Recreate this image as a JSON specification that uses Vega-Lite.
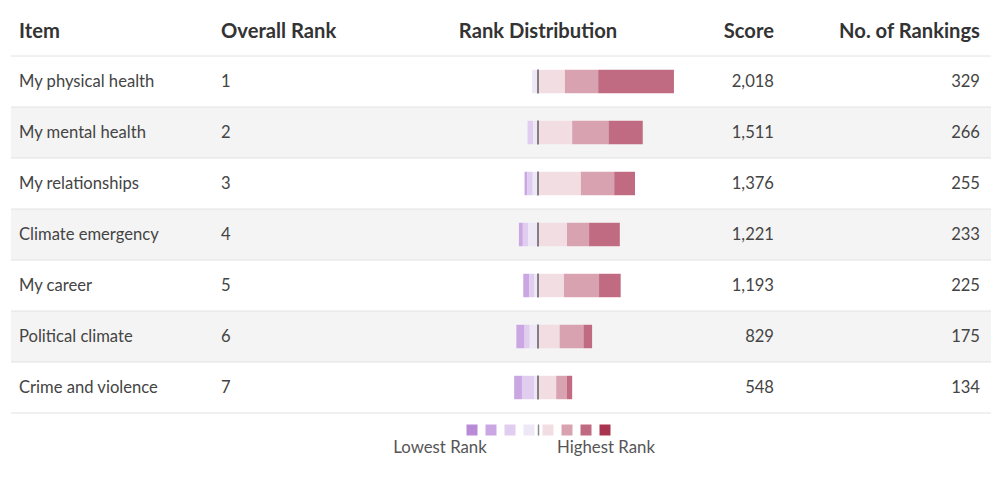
{
  "$schema": "https://vega.github.io/schema/vega-lite/v6.json",
  "padding": {"left": 10, "right": 10, "top": 0, "bottom": 0},
  "background": "#ffffff",
  "spacing": 0,
  "config": {"view": {"stroke": null}, "font": "Lato", "text": {"font": "Lato"}},
  "datasets": {
    "rows": [
      {"Item": "My physical health", "rank": 1, "score": 2018, "n": 329},
      {"Item": "My mental health", "rank": 2, "score": 1511, "n": 266},
      {"Item": "My relationships", "rank": 3, "score": 1376, "n": 255},
      {"Item": "Climate emergency", "rank": 4, "score": 1221, "n": 233},
      {"Item": "My career", "rank": 5, "score": 1193, "n": 225},
      {"Item": "Political climate", "rank": 6, "score": 829, "n": 175},
      {"Item": "Crime and violence", "rank": 7, "score": 548, "n": 134}
    ],
    "dist": [
      {"Item": "My physical health", "k": "L1", "v": -14},
      {"Item": "My physical health", "k": "H1", "v": 62},
      {"Item": "My physical health", "k": "H2", "v": 77},
      {"Item": "My physical health", "k": "H3", "v": 175},
      {"Item": "My mental health", "k": "L2", "v": -13},
      {"Item": "My mental health", "k": "L1", "v": -11},
      {"Item": "My mental health", "k": "H1", "v": 79},
      {"Item": "My mental health", "k": "H2", "v": 84},
      {"Item": "My mental health", "k": "H3", "v": 79},
      {"Item": "My relationships", "k": "L3", "v": -6},
      {"Item": "My relationships", "k": "L2", "v": -13},
      {"Item": "My relationships", "k": "L1", "v": -12},
      {"Item": "My relationships", "k": "H1", "v": 99},
      {"Item": "My relationships", "k": "H2", "v": 77},
      {"Item": "My relationships", "k": "H3", "v": 48},
      {"Item": "Climate emergency", "k": "L3", "v": -9},
      {"Item": "Climate emergency", "k": "L2", "v": -12},
      {"Item": "Climate emergency", "k": "L1", "v": -23},
      {"Item": "Climate emergency", "k": "H1", "v": 67},
      {"Item": "Climate emergency", "k": "H2", "v": 51},
      {"Item": "Climate emergency", "k": "H3", "v": 71},
      {"Item": "My career", "k": "L3", "v": -14},
      {"Item": "My career", "k": "L2", "v": -12},
      {"Item": "My career", "k": "L1", "v": -8},
      {"Item": "My career", "k": "H1", "v": 60},
      {"Item": "My career", "k": "H2", "v": 81},
      {"Item": "My career", "k": "H3", "v": 50},
      {"Item": "Political climate", "k": "L3", "v": -19},
      {"Item": "Political climate", "k": "L2", "v": -12},
      {"Item": "Political climate", "k": "L1", "v": -19},
      {"Item": "Political climate", "k": "H1", "v": 50},
      {"Item": "Political climate", "k": "H2", "v": 55},
      {"Item": "Political climate", "k": "H3", "v": 20},
      {"Item": "Crime and violence", "k": "L3", "v": -18},
      {"Item": "Crime and violence", "k": "L2", "v": -29},
      {"Item": "Crime and violence", "k": "L1", "v": -8},
      {"Item": "Crime and violence", "k": "H1", "v": 42},
      {"Item": "Crime and violence", "k": "H2", "v": 25},
      {"Item": "Crime and violence", "k": "H3", "v": 12}
    ],
    "legend": [
      {"k": "L4"}, {"k": "L3"}, {"k": "L2"}, {"k": "L1"},
      {"k": "H1"}, {"k": "H2"}, {"k": "H3"}, {"k": "H4"}
    ]
  },
  "vconcat": [
    {
      "width": 980,
      "height": 55,
      "layer": [
        {
          "data": {"values": [{"col": "Item", "label": "Item"}, {"col": "rank", "label": "Overall Rank"}]},
          "mark": {"type": "text", "align": "left", "baseline": "middle", "dy": 4, "font": "Lato", "fontWeight": "bold", "fontSize": 20.2, "color": "#333333"},
          "encoding": {
            "x": {"field": "col", "type": "nominal", "scale": {"type": "point", "domain": ["Item", "rank"], "range": [8, 210], "padding": 0}, "axis": null},
            "text": {"field": "label", "type": "nominal"}
          }
        },
        {
          "data": {"values": [{"col": "score", "label": "Score"}, {"col": "n", "label": "No. of Rankings"}]},
          "mark": {"type": "text", "align": "right", "baseline": "middle", "dy": 4, "font": "Lato", "fontWeight": "bold", "fontSize": 20.2, "color": "#333333"},
          "encoding": {
            "x": {"field": "col", "type": "nominal", "scale": {"type": "point", "domain": ["score", "n"], "range": [763, 969], "padding": 0}, "axis": null},
            "text": {"field": "label", "type": "nominal"}
          }
        },
        {
          "data": {"values": [{"label": "Rank Distribution"}]},
          "mark": {"type": "text", "align": "center", "baseline": "middle", "dy": 4, "font": "Lato", "fontWeight": "bold", "fontSize": 20.2, "color": "#333333"},
          "encoding": {
            "x": {"datum": 0, "type": "quantitative", "scale": {"domain": [-1217, 1046.2], "nice": false, "zero": false}, "axis": null},
            "text": {"field": "label", "type": "nominal"}
          }
        }
      ],
      "resolve": {"scale": {"x": "independent"}}
    },
    {
      "width": 980,
      "height": 357,
      "layer": [
        {
          "data": {"name": "rows"},
          "transform": [{"filter": "datum.rank % 2 === 0"}],
          "mark": {"type": "rect", "color": "#f4f4f4"},
          "encoding": {
            "y": {"field": "Item", "type": "nominal", "sort": null, "scale": {"domain": ["My physical health", "My mental health", "My relationships", "Climate emergency", "My career", "Political climate", "Crime and violence"], "paddingInner": 0, "paddingOuter": 0}, "axis": null}
          }
        },
        {
          "data": {"name": "rows"},
          "mark": {"type": "rule", "color": "#e2e2e2", "strokeWidth": 1},
          "encoding": {
            "y": {"field": "Item", "type": "nominal", "bandPosition": 0, "sort": null, "scale": {"domain": ["My physical health", "My mental health", "My relationships", "Climate emergency", "My career", "Political climate", "Crime and violence"], "paddingInner": 0, "paddingOuter": 0}, "axis": null}
          }
        },
        {
          "data": {"name": "rows"},
          "transform": [{"filter": "datum.rank === 7"}],
          "mark": {"type": "rule", "color": "#e2e2e2", "strokeWidth": 1},
          "encoding": {
            "y": {"field": "Item", "type": "nominal", "bandPosition": 1, "sort": null, "scale": {"domain": ["My physical health", "My mental health", "My relationships", "Climate emergency", "My career", "Political climate", "Crime and violence"], "paddingInner": 0, "paddingOuter": 0}, "axis": null}
          }
        },
        {
          "data": {"name": "dist"},
          "mark": {"type": "bar", "height": {"band": 0.46}},
          "encoding": {
            "y": {"field": "Item", "type": "nominal", "sort": null, "scale": {"domain": ["My physical health", "My mental health", "My relationships", "Climate emergency", "My career", "Political climate", "Crime and violence"], "paddingInner": 0, "paddingOuter": 0}, "axis": null},
            "x": {"field": "v", "type": "quantitative", "stack": "zero", "scale": {"domain": [-1217, 1046.2], "nice": false, "zero": false}, "axis": null},
            "color": {"field": "k", "type": "nominal", "scale": {"domain": ["L4", "L3", "L2", "L1", "H1", "H2", "H3", "H4"], "range": ["#b98ad8", "#caa6e2", "#e0cdef", "#eee7f6", "#f2dde3", "#d9a2b0", "#c06b81", "#a93450"]}, "legend": null},
            "order": {"field": "k", "type": "ordinal", "sort": "ascending"}
          }
        },
        {
          "data": {"name": "rows"},
          "mark": {"type": "tick", "color": "#555555", "thickness": 2, "size": 24, "orient": "vertical"},
          "encoding": {
            "y": {"field": "Item", "type": "nominal", "sort": null, "scale": {"domain": ["My physical health", "My mental health", "My relationships", "Climate emergency", "My career", "Political climate", "Crime and violence"], "paddingInner": 0, "paddingOuter": 0}, "axis": null},
            "x": {"datum": 0, "type": "quantitative", "scale": {"domain": [-1217, 1046.2], "nice": false, "zero": false}, "axis": null}
          }
        },
        {
          "data": {"name": "rows"},
          "transform": [{"fold": ["Item", "rank"], "as": ["col", "val"]}],
          "mark": {"type": "text", "align": "left", "baseline": "middle", "font": "Lato", "fontSize": 16.6, "color": "#444444"},
          "encoding": {
            "y": {"field": "Item", "type": "nominal", "sort": null, "scale": {"domain": ["My physical health", "My mental health", "My relationships", "Climate emergency", "My career", "Political climate", "Crime and violence"], "paddingInner": 0, "paddingOuter": 0}, "axis": null},
            "x": {"field": "col", "type": "nominal", "scale": {"type": "point", "domain": ["Item", "rank"], "range": [8, 210], "padding": 0}, "axis": null},
            "text": {"field": "val", "type": "nominal"}
          }
        },
        {
          "data": {"name": "rows"},
          "transform": [{"fold": ["score", "n"], "as": ["col", "val"]}],
          "mark": {"type": "text", "align": "right", "baseline": "middle", "font": "Lato", "fontSize": 16.6, "color": "#444444"},
          "encoding": {
            "y": {"field": "Item", "type": "nominal", "sort": null, "scale": {"domain": ["My physical health", "My mental health", "My relationships", "Climate emergency", "My career", "Political climate", "Crime and violence"], "paddingInner": 0, "paddingOuter": 0}, "axis": null},
            "x": {"field": "col", "type": "nominal", "scale": {"type": "point", "domain": ["score", "n"], "range": [763, 969], "padding": 0}, "axis": null},
            "text": {"field": "val", "type": "quantitative", "format": ","}
          }
        }
      ],
      "resolve": {"scale": {"x": "independent"}}
    },
    {
      "width": 980,
      "height": 32,
      "layer": [
        {
          "data": {"name": "legend"},
          "mark": {"type": "square", "size": 121, "filled": true, "opacity": 1},
          "encoding": {
            "x": {"field": "k", "type": "nominal", "sort": null, "scale": {"type": "band", "domain": ["L4", "L3", "L2", "L1", "H1", "H2", "H3", "H4"], "range": [451.5, 603.5], "paddingInner": 0, "paddingOuter": 0}, "axis": null},
            "color": {"field": "k", "type": "nominal", "scale": {"domain": ["L4", "L3", "L2", "L1", "H1", "H2", "H3", "H4"], "range": ["#b98ad8", "#d0b0e6", "#e0cdef", "#efe9f6", "#f2dde3", "#dba3b2", "#c06c82", "#a93450"]}, "legend": null}
          }
        },
        {
          "data": {"values": [{"k": "H1"}]},
          "mark": {"type": "tick", "color": "#555555", "thickness": 1.5, "size": 11, "orient": "vertical"},
          "encoding": {
            "x": {"field": "k", "type": "nominal", "bandPosition": 0, "scale": {"type": "band", "domain": ["L4", "L3", "L2", "L1", "H1", "H2", "H3", "H4"], "range": [451.5, 603.5], "paddingInner": 0, "paddingOuter": 0}, "axis": null}
          }
        },
        {
          "data": {"values": [{"k": "L4", "label": "Lowest Rank"}]},
          "mark": {"type": "text", "align": "center", "baseline": "middle", "dx": -32, "dy": 18, "font": "Lato", "fontSize": 16.8, "color": "#555555"},
          "encoding": {
            "x": {"field": "k", "type": "nominal", "scale": {"type": "band", "domain": ["L4", "L3", "L2", "L1", "H1", "H2", "H3", "H4"], "range": [451.5, 603.5], "paddingInner": 0, "paddingOuter": 0}, "axis": null},
            "text": {"field": "label", "type": "nominal"}
          }
        },
        {
          "data": {"values": [{"k": "H4", "label": "Highest Rank"}]},
          "mark": {"type": "text", "align": "center", "baseline": "middle", "dx": 1, "dy": 18, "font": "Lato", "fontSize": 16.8, "color": "#555555"},
          "encoding": {
            "x": {"field": "k", "type": "nominal", "scale": {"type": "band", "domain": ["L4", "L3", "L2", "L1", "H1", "H2", "H3", "H4"], "range": [451.5, 603.5], "paddingInner": 0, "paddingOuter": 0}, "axis": null},
            "text": {"field": "label", "type": "nominal"}
          }
        }
      ]
    }
  ]
}
